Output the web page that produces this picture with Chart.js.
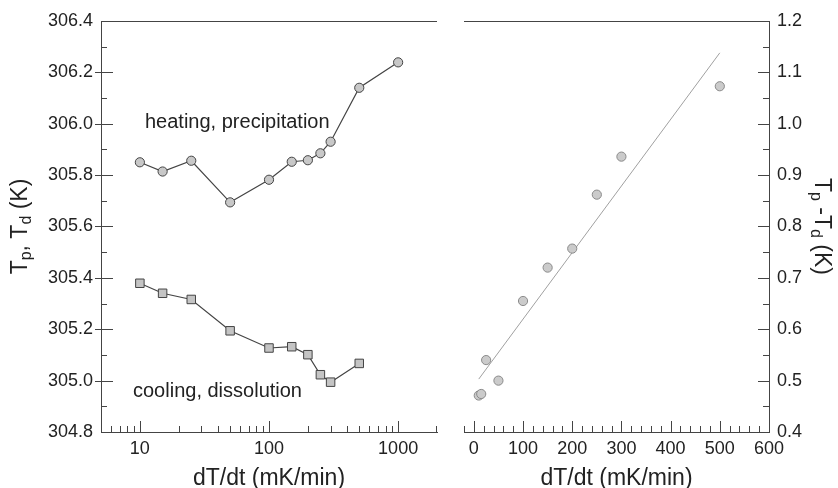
<!DOCTYPE html>
<html lang="en">
<head>
  <meta charset="UTF-8">
  <title>Tp, Td vs dT/dt</title>
  <script src="https://cdn.jsdelivr.net/npm/chart.js"></script>
  <style>
    body {
      margin: 0;
      background: #fff;
      font-family: 'Liberation Sans', Arial, sans-serif;
    }

    .wrap {
      position: absolute;
      top: 0;
      height: 488px;
    }

    #leftWrap { left: 0; width: 450px; }
    #rightWrap { left: 450px; width: 388px; }
  </style>
</head>
<body>

<div class="wrap" id="leftWrap"><canvas id="leftChart" width="450" height="488"></canvas></div>
<div class="wrap" id="rightWrap"><canvas id="rightChart" width="388" height="488"></canvas></div>

<script>
  // left panel: Tp (heating) and Td (cooling) vs rate, log x
  const heatRates = [10, 15, 25, 50, 100, 150, 200, 250, 300, 500, 1000];
  const heatT = [305.850, 305.814, 305.856, 305.694, 305.782, 305.852, 305.858, 305.885, 305.930, 306.140, 306.239];
  const coolRates = [10, 15, 25, 50, 100, 150, 200, 250, 300, 500];
  const coolT = [305.379, 305.340, 305.316, 305.194, 305.127, 305.132, 305.101, 305.023, 304.994, 305.067];

  // right panel: Tp - Td vs rate, linear x, with straight fit
  const diffRates = [10, 15, 25, 50, 100, 150, 200, 250, 300, 500];
  const diffT = [0.471, 0.474, 0.540, 0.500, 0.655, 0.720, 0.757, 0.862, 0.936, 1.073];
  const fitRates = [10, 500];
  const fitT = [0.503, 1.138];

  const leftXTicks = [10, 100, 1000];
  const leftYTicks = [304.8, 305.0, 305.2, 305.4, 305.6, 305.8, 306.0, 306.2, 306.4];
  const rightXTicks = [0, 100, 200, 300, 400, 500, 600];
  const rightYTicks = [0.4, 0.5, 0.6, 0.7, 0.8, 0.9, 1.0, 1.1, 1.2];

  const FONT = "'Liberation Sans', Arial, sans-serif";
  const AXIS = '#444';
  const TEXT = '#222';

  const pts = (xs, ys) => xs.map((x, i) => ({ x: x, y: ys[i] }));

  // minor tick positions
  const leftXMinor = [];
  [1, 10, 100, 1000].forEach(d => {
    for (let m = 2; m <= 9; m++) {
      const v = m * d;
      if (v >= 5 && v <= 2000) leftXMinor.push(v);
    }
  });
  const leftYMinor = leftYTicks.slice(0, -1).map(v => +(v + 0.1).toFixed(1));
  const rightXMinor = [];
  for (let v = -20; v < 600; v += 20) if (v % 100) rightXMinor.push(v);
  const rightYMinor = rightYTicks.slice(0, -1).map(v => +(v + 0.05).toFixed(2));

  function tickLines(ctx, scale, values, inner, outer) {
    ctx.beginPath();
    values.forEach(v => {
      let p = Math.round(scale.getPixelForValue(v)) + 0.5;
      if (scale.isHorizontal()) {
        p = Math.min(Math.max(p, scale.left + 0.5), scale.right - 0.5);
        ctx.moveTo(p, scale.top + outer);
        ctx.lineTo(p, scale.top - inner);
      } else if (scale.position === 'left') {
        ctx.moveTo(scale.right - outer, p);
        ctx.lineTo(scale.right + inner, p);
      } else {
        ctx.moveTo(scale.left + outer, p);
        ctx.lineTo(scale.left - inner, p);
      }
    });
    ctx.stroke();
  }

  function richText(ctx, parts, cx, cy, angle) {
    ctx.save();
    ctx.translate(cx, cy);
    ctx.rotate(angle);
    ctx.fillStyle = TEXT;
    ctx.textAlign = 'left';
    ctx.textBaseline = 'alphabetic';
    const widths = parts.map(p => {
      ctx.font = (p.sub ? 16 : 23) + 'px ' + FONT;
      return ctx.measureText(p.t).width;
    });
    let x = -widths.reduce((a, b) => a + b, 0) / 2;
    parts.forEach((p, i) => {
      ctx.font = (p.sub ? 16 : 23) + 'px ' + FONT;
      ctx.fillText(p.t, x, p.sub ? 4 : 0);
      x += widths[i];
    });
    ctx.restore();
  }

  const framePlugin = {
    id: 'frame',
    afterDraw(chart, args, opts) {
      const ctx = chart.ctx;
      const area = chart.chartArea;
      const xs = chart.scales.x;
      const ys = chart.scales.y;
      ctx.save();
      ctx.strokeStyle = AXIS;
      ctx.lineWidth = 1;
      ctx.beginPath();
      ctx.moveTo(area.left, Math.round(area.top) + 0.5);
      ctx.lineTo(area.right, Math.round(area.top) + 0.5);
      ctx.stroke();
      tickLines(ctx, xs, opts.xMajor, 11, 0);
      tickLines(ctx, xs, opts.xMinor, 6, 0);
      tickLines(ctx, ys, opts.yMajor, opts.yMajorIn, opts.yMajorOut);
      tickLines(ctx, ys, opts.yMinor, 6, 0);

      ctx.fillStyle = TEXT;
      ctx.font = '23px ' + FONT;
      ctx.textAlign = 'center';
      ctx.textBaseline = 'alphabetic';
      ctx.fillText('dT/dt (mK/min)', (area.left + area.right) / 2, 485);

      ctx.font = '20px ' + FONT;
      ctx.textAlign = 'left';
      (opts.notes || []).forEach(n => ctx.fillText(n.t, n.x, n.y));

      richText(ctx, opts.title, opts.titleX, (area.top + area.bottom) / 2, opts.titleAngle);
      ctx.restore();
    }
  };

  const tickFont = { size: 18, family: FONT };

  new Chart(document.getElementById('leftChart'), {
    type: 'line',
    data: {
      datasets: [
        {
          data: pts(heatRates, heatT),
          borderColor: '#444',
          borderWidth: 1.2,
          pointStyle: 'circle',
          pointRadius: 4.6,
          pointBackgroundColor: '#c8c8c8',
          pointBorderColor: '#444',
          pointBorderWidth: 1
        },
        {
          data: pts(coolRates, coolT),
          borderColor: '#444',
          borderWidth: 1.2,
          pointStyle: 'rect',
          pointRadius: 6,
          pointBackgroundColor: '#c4c4c4',
          pointBorderColor: '#444',
          pointBorderWidth: 1
        }
      ]
    },
    options: {
      responsive: false,
      animation: false,
      layout: { padding: { top: 21, right: 13, left: 0, bottom: 0 } },
      plugins: {
        legend: { display: false },
        tooltip: { enabled: false },
        frame: {
          xMajor: leftXTicks, xMinor: leftXMinor,
          yMajor: leftYTicks.slice(1, -1), yMinor: leftYMinor,
          yMajorIn: 12, yMajorOut: 6,
          notes: [
            { t: 'heating, precipitation', x: 145, y: 128 },
            { t: 'cooling, dissolution', x: 133, y: 397 }
          ],
          title: [{ t: 'T' }, { t: 'p', sub: true }, { t: ', T' }, { t: 'd', sub: true }, { t: ' (K)' }],
          titleX: 27,
          titleAngle: -Math.PI / 2
        }
      },
      scales: {
        x: {
          type: 'logarithmic',
          min: 5,
          max: 2000,
          afterBuildTicks: s => { s.ticks = leftXTicks.map(v => ({ value: v })); },
          afterFit: s => { s.height = 56; },
          grid: { display: false, drawTicks: false },
          border: { display: true, color: AXIS, width: 1 },
          ticks: { callback: v => String(v), font: tickFont, color: TEXT, padding: 6, maxRotation: 0, autoSkip: false }
        },
        y: {
          min: 304.8,
          max: 306.4,
          afterBuildTicks: s => { s.ticks = leftYTicks.map(v => ({ value: v })); },
          afterFit: s => { s.width = 101; },
          grid: { display: false, drawTicks: false },
          border: { display: true, color: AXIS, width: 1 },
          ticks: { callback: v => v.toFixed(1), font: tickFont, color: TEXT, padding: 8, autoSkip: false }
        }
      }
    },
    plugins: [framePlugin]
  });

  new Chart(document.getElementById('rightChart'), {
    type: 'scatter',
    data: {
      datasets: [
        {
          data: pts(diffRates, diffT),
          pointStyle: 'circle',
          pointRadius: 4.6,
          pointBackgroundColor: '#cbcbcb',
          pointBorderColor: '#8a8a8a',
          pointBorderWidth: 1
        },
        {
          type: 'line',
          data: pts(fitRates, fitT),
          borderColor: '#a0a0a0',
          borderWidth: 1,
          pointRadius: 0
        }
      ]
    },
    options: {
      responsive: false,
      animation: false,
      layout: { padding: { top: 21, right: 0, left: 14, bottom: 0 } },
      plugins: {
        legend: { display: false },
        tooltip: { enabled: false },
        frame: {
          xMajor: rightXTicks.slice(0, -1), xMinor: rightXMinor,
          yMajor: rightYTicks.slice(1, -1), yMinor: rightYMinor,
          yMajorIn: 11, yMajorOut: 0,
          title: [{ t: 'T' }, { t: 'p', sub: true }, { t: ' -T' }, { t: 'd', sub: true }, { t: ' (K)' }],
          titleX: 365,
          titleAngle: Math.PI / 2
        }
      },
      scales: {
        x: {
          type: 'linear',
          min: -20,
          max: 600,
          afterBuildTicks: s => { s.ticks = rightXTicks.map(v => ({ value: v })); },
          afterFit: s => { s.height = 56; },
          grid: { display: false, drawTicks: false },
          border: { display: true, color: AXIS, width: 1 },
          ticks: { callback: v => String(v), font: tickFont, color: TEXT, padding: 6, maxRotation: 0, autoSkip: false }
        },
        y: {
          position: 'right',
          min: 0.4,
          max: 1.2,
          afterBuildTicks: s => { s.ticks = rightYTicks.map(v => ({ value: v })); },
          afterFit: s => { s.width = 69; },
          grid: { display: false, drawTicks: false },
          border: { display: true, color: AXIS, width: 1 },
          ticks: { callback: v => v.toFixed(1), font: tickFont, color: TEXT, padding: 8, autoSkip: false }
        }
      }
    },
    plugins: [framePlugin]
  });
</script>

</body>
</html>
